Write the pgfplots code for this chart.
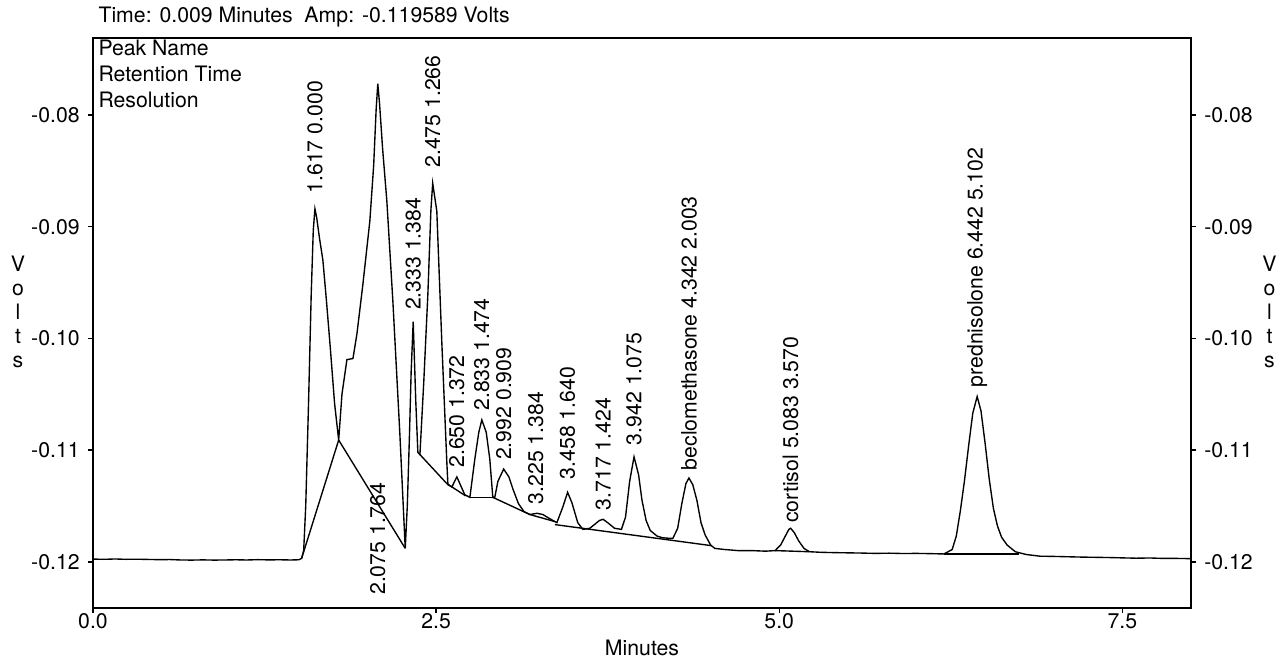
\documentclass[border=0pt]{standalone}
\usepackage{fontspec}
\setmainfont{TeX Gyre Heros}
\usepackage{pgfplots}
\pgfplotsset{compat=1.18}

% one pixel of the reference = 0.4pt
\pgfplotsset{
  chrom/.style={
    at={(0,0)}, anchor=south west,
    width=439.2pt, height=228pt, scale only axis,
    xmin=0, xmax=8, ymin=-0.12414, ymax=-0.0731,
    scaled y ticks=false, scaled x ticks=false,
    ytick={-0.12,-0.11,-0.10,-0.09,-0.08},
    /pgf/number format/assume math mode=true,
    tick align=outside,
    major tick length=1.8pt,
    tick style={black, line width=0.6pt},
    axis line style={line width=0.8pt},
    tick label style={font=\fontsize{8.5}{10}\selectfont},
    y tick label style={/pgf/number format/.cd, fixed, fixed zerofill, precision=2},
  },
}
\tikzset{
  pk/.style={rotate=90, anchor=west, inner xsep=3.5pt, inner ysep=0pt,
    font=\fontsize{8.5}{10}\selectfont},
  base/.style={black, line width=0.55pt},
}

\begin{document}
\begin{tikzpicture}
\path[use as bounding box] (-37.2pt,-20.4pt) rectangle (477.2pt,243.2pt);

\begin{axis}[chrom,
  xtick={0,2.5,5,7.5},
  x tick label style={yshift=3pt, /pgf/number format/.cd, fixed, fixed zerofill, precision=1},
  xtick pos=lower, ytick pos=left,
  clip=false,
]
% detector trace
\addplot[black, line width=0.55pt] coordinates {
(0.00,-0.11976) (0.08,-0.11978) (0.16,-0.11975) (0.24,-0.11978) (0.32,-0.11977)
(0.40,-0.11979) (0.48,-0.11981) (0.56,-0.11980) (0.64,-0.11984) (0.72,-0.11985)
(0.80,-0.11983) (0.88,-0.11985) (0.96,-0.11984) (1.04,-0.11982) (1.12,-0.11984)
(1.20,-0.11981) (1.28,-0.11983) (1.36,-0.11982) (1.44,-0.11984) (1.50,-0.11982)
(1.52,-0.11970) (1.535,-0.1190) (1.55,-0.1150) (1.57,-0.1060) (1.59,-0.0960)
(1.605,-0.0903) (1.617,-0.0884) (1.63,-0.0892) (1.65,-0.0910) (1.675,-0.0930)
(1.70,-0.0965) (1.73,-0.1010) (1.76,-0.1058) (1.79,-0.1091)
(1.814,-0.1050) (1.85,-0.1019) (1.894,-0.1018) (1.923,-0.0996) (1.966,-0.0952)
(2.017,-0.0895) (2.045,-0.0845) (2.063,-0.0795) (2.075,-0.0772) (2.088,-0.0790)
(2.11,-0.0830) (2.141,-0.0877) (2.185,-0.0967) (2.236,-0.1086) (2.275,-0.1188)
(2.29,-0.1150) (2.305,-0.1090) (2.318,-0.1030) (2.333,-0.0985) (2.352,-0.1057)
(2.367,-0.1102) (2.382,-0.1104) (2.41,-0.1039) (2.44,-0.0960) (2.462,-0.0885)
(2.475,-0.0861) (2.505,-0.0886) (2.542,-0.1005) (2.578,-0.1111) (2.586,-0.1131)
(2.615,-0.1133) (2.651,-0.1124) (2.709,-0.1140) (2.746,-0.11423)
(2.782,-0.1108) (2.811,-0.1084) (2.833,-0.1073) (2.865,-0.1084) (2.891,-0.1108)
(2.913,-0.11423) (2.928,-0.1142) (2.95,-0.1128) (2.992,-0.1117) (3.03,-0.1124)
(3.06,-0.1135) (3.10,-0.1148) (3.14,-0.1155) (3.183,-0.11577) (3.234,-0.11566)
(3.278,-0.11577) (3.314,-0.11604) (3.365,-0.1164) (3.38,-0.11649) (3.423,-0.1151)
(3.458,-0.11378) (3.489,-0.1147) (3.532,-0.1165) (3.569,-0.1171) (3.62,-0.1170)
(3.66,-0.1166) (3.69,-0.1163) (3.717,-0.1162) (3.75,-0.1165) (3.80,-0.1170)
(3.85,-0.1171) (3.88,-0.1160) (3.91,-0.1128) (3.942,-0.1106) (3.975,-0.1122)
(4.00,-0.1145) (4.03,-0.1163) (4.06,-0.1172) (4.11,-0.1177) (4.15,-0.11785)
(4.20,-0.1179) (4.225,-0.1179) (4.26,-0.1170) (4.29,-0.1148) (4.32,-0.1130)
(4.342,-0.1125) (4.37,-0.1131) (4.40,-0.1145) (4.43,-0.1165) (4.46,-0.1176)
(4.50,-0.1185) (4.53,-0.1188) (4.60,-0.1189) (4.70,-0.11900) (4.80,-0.1190)
(4.90,-0.11905) (4.97,-0.1190) (5.01,-0.1185) (5.04,-0.1178) (5.07,-0.1171)
(5.083,-0.1170) (5.11,-0.1174) (5.14,-0.1181) (5.18,-0.1188) (5.22,-0.1191)
(5.30,-0.11915) (5.40,-0.11918) (5.50,-0.1192) (5.60,-0.11922) (5.70,-0.11925)
(5.80,-0.11923) (5.90,-0.11926) (6.00,-0.11925) (6.10,-0.11927) (6.20,-0.1193)
(6.26,-0.1189) (6.29,-0.1177) (6.32,-0.1154) (6.35,-0.1127) (6.38,-0.1096)
(6.41,-0.1067) (6.442,-0.1052) (6.47,-0.1065) (6.50,-0.1094) (6.53,-0.1126)
(6.56,-0.1152) (6.59,-0.1168) (6.62,-0.1178) (6.66,-0.1185) (6.72,-0.1191)
(6.80,-0.11935) (6.90,-0.1195) (7.00,-0.11952) (7.10,-0.11955) (7.20,-0.11958)
(7.30,-0.1196) (7.40,-0.11962) (7.50,-0.11965) (7.60,-0.11968) (7.70,-0.11966)
(7.80,-0.1197) (7.90,-0.1197) (8.00,-0.11972)
};
% integration baselines
\addplot[base] coordinates {(1.52,-0.11970) (1.79,-0.1091)};
\addplot[base] coordinates {(1.79,-0.1091) (2.275,-0.1188)};
\addplot[base] coordinates {(2.382,-0.1104) (2.578,-0.1130)};
\addplot[base] coordinates {(2.578,-0.1130) (2.715,-0.1141)};
\addplot[base] coordinates {(2.746,-0.11423) (2.913,-0.11423)};
\addplot[base] coordinates {(2.913,-0.11423) (3.183,-0.11577)};
\addplot[base] coordinates {(3.183,-0.11577) (3.365,-0.1164)};
\addplot[base] coordinates {(3.365,-0.11667) (4.508,-0.11856)};
\addplot[base] coordinates {(4.97,-0.1190) (5.22,-0.1191)};
\addplot[base] coordinates {(6.20,-0.1193) (6.75,-0.1193)};

% peak labels
\node[pk, inner xsep=6pt] at (axis cs:1.617,-0.0884) {1.617 0.000};
\node[pk, inner xsep=0pt] at (axis cs:2.075,-0.1230) {2.075 1.764};
\node[pk, inner xsep=4.5pt] at (axis cs:2.333,-0.0985) {2.333 1.384};
\node[pk, inner xsep=6pt] at (axis cs:2.475,-0.0861) {2.475 1.266};
\node[pk] at (axis cs:2.650,-0.1124) {2.650 1.372};
\node[pk] at (axis cs:2.833,-0.1073) {2.833 1.474};
\node[pk] at (axis cs:2.992,-0.1117) {2.992 0.909};
\node[pk] at (axis cs:3.225,-0.11566) {3.225 1.384};
\node[pk, inner xsep=5pt] at (axis cs:3.458,-0.11378) {3.458 1.640};
\node[pk] at (axis cs:3.717,-0.1162) {3.717 1.424};
\node[pk, inner xsep=4.5pt] at (axis cs:3.942,-0.1106) {3.942 1.075};
\node[pk, inner xsep=3pt] at (axis cs:4.342,-0.1125) {beclomethasone 4.342 2.003};
\node[pk, inner xsep=2pt] at (axis cs:5.083,-0.1170) {cortisol 5.083 3.570};
\node[pk] at (axis cs:6.442,-0.1052) {prednisolone 6.442 5.102};

% texts round the plot
\node[anchor=west, inner sep=0pt, font=\fontsize{8.5}{10}\selectfont]
  at (axis description cs:0.0046,1.037) {Time: 0.009 Minutes\ \ Amp: -0.119589 Volts};
\node[anchor=north west, align=left, inner sep=0pt,
  font=\fontsize{8.5}{10.4}\selectfont]
  at (axis description cs:0.0046,0.9965) {Peak Name\\Retention Time\\Resolution};
\node[align=center, inner sep=0pt, font=\fontsize{8.5}{9.6}\selectfont]
  at (axis description cs:-0.0683,0.52) {V\\o\\l\\t\\s};
\node[align=center, inner sep=0pt, font=\fontsize{8.5}{9.6}\selectfont]
  at (axis description cs:1.0715,0.52) {V\\o\\l\\t\\s};
\node[inner sep=0pt, font=\fontsize{8.5}{10}\selectfont]
  at (axis description cs:0.5,-0.070) {Minutes};
\end{axis}

% right-hand volt scale
\begin{axis}[chrom,
  hide x axis,
  axis y line*=right,
  yticklabel pos=right,
]
\end{axis}
\end{tikzpicture}
\end{document}
